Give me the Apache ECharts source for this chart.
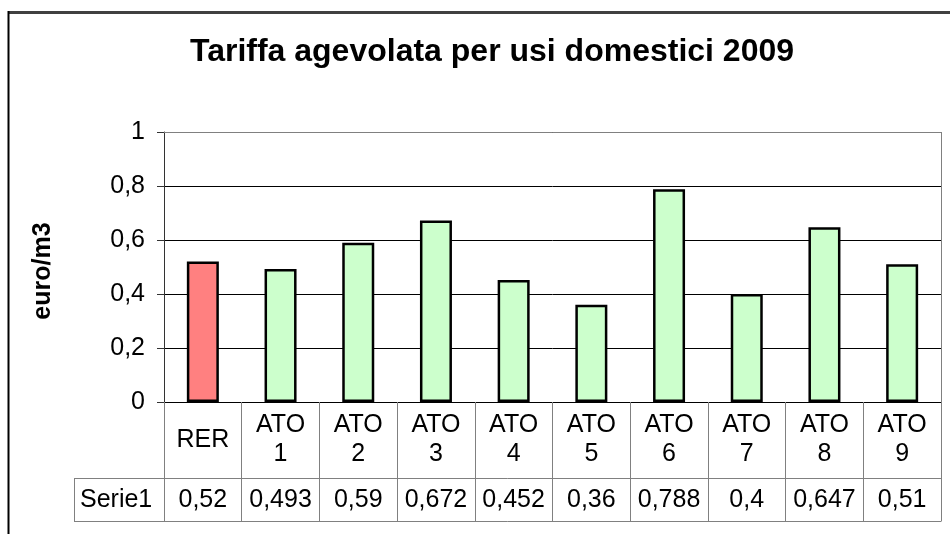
<!DOCTYPE html>
<html>
<head>
<meta charset="utf-8">
<script src="https://cdn.jsdelivr.net/npm/echarts@6/dist/echarts.min.js"></script>
<style>
html,body{margin:0;padding:0;background:#fff;}
#chart{width:950px;height:534px;}
</style>
</head>
<body>
<div id="chart"></div>
<script>
var titleText = 'Tariffa agevolata per usi domestici 2009';
var yAxisName = 'euro/m3';
var seriesName = 'Serie1';
var categories = ['RER', 'ATO 1', 'ATO 2', 'ATO 3', 'ATO 4', 'ATO 5', 'ATO 6', 'ATO 7', 'ATO 8', 'ATO 9'];
var values = [0.52, 0.493, 0.59, 0.672, 0.452, 0.36, 0.788, 0.4, 0.647, 0.51];
var barColors = ['#FF8080', '#CCFFCC', '#CCFFCC', '#CCFFCC', '#CCFFCC', '#CCFFCC', '#CCFFCC', '#CCFFCC', '#CCFFCC', '#CCFFCC'];

function fmt(v) { return String(v).replace('.', ','); }

var FONT = '"Liberation Sans", Arial, sans-serif';
var G = { left: 164, top: 132, width: 777, height: 270 };
var rowTop = G.top + G.height;       // 402
var row2Top = rowTop + 76;           // 478
var row2Bot = row2Top + 43;          // 521
var tableLeft = 74;
var gRight = G.left + G.width;       // 941
var grey = '#808080';

var chart = echarts.init(document.getElementById('chart'), null, { renderer: 'canvas' });
chart.setOption({
  animation: false,
  backgroundColor: '#fff',
  title: {
    text: titleText,
    left: 487, top: 31, textAlign: 'center',
    textStyle: { fontFamily: FONT, fontSize: 32, fontWeight: 'bold', color: '#000' }
  },
  grid: { left: G.left, top: G.top, width: G.width, height: G.height, containLabel: false },
  xAxis: [{
    type: 'category',
    data: categories,
    position: 'bottom',
    axisLine: { show: true, lineStyle: { color: '#000', width: 1 } },
    axisTick: { show: true, length: row2Bot - rowTop, lineStyle: { color: grey, width: 1 } },
    axisLabel: {
      margin: 38, verticalAlign: 'middle', align: 'center', interval: 0,
      fontFamily: FONT, fontSize: 25, color: '#000', lineHeight: 29,
      formatter: function (v) { return v.replace(' ', '\n'); }
    },
    splitLine: { show: false }
  }, {
    type: 'category',
    data: values.map(fmt),
    position: 'bottom',
    offset: row2Top - rowTop,
    axisLine: { show: false },
    axisTick: { show: false },
    axisLabel: {
      margin: 22, verticalAlign: 'middle', align: 'center', interval: 0,
      fontFamily: FONT, fontSize: 25, color: '#000'
    },
    splitLine: { show: false }
  }],
  yAxis: {
    type: 'value',
    min: 0, max: 1, interval: 0.2,
    name: yAxisName,
    nameLocation: 'middle',
    nameGap: 108,
    nameRotate: 90,
    nameTextStyle: { fontFamily: FONT, fontSize: 25, fontWeight: 'bold', color: '#000', padding: [0, 8, 0, 0] },
    axisLine: { show: true, lineStyle: { color: '#333', width: 1 } },
    axisTick: { show: true, inside: false, length: 7, lineStyle: { color: '#333' } },
    axisLabel: {
      margin: 19, fontFamily: FONT, fontSize: 25, color: '#000',
      formatter: function (v) { return fmt(Math.round(v * 10) / 10); }
    },
    splitLine: { show: true, lineStyle: { color: '#000', width: 1 } }
  },
  series: [{
    type: 'bar',
    name: seriesName,
    xAxisIndex: 0,
    data: values.map(function (v, i) {
      return { value: v, itemStyle: { color: barColors[i] } };
    }),
    barWidth: 32,
    itemStyle: { borderColor: '#000', borderWidth: 2.5 }
  }],
  graphic: [
    { type: 'line', z: 100, shape: { x1: 8, y1: 12.5, x2: 950, y2: 12.5 }, style: { stroke: '#404040', lineWidth: 3 } },
    { type: 'line', z: 100, shape: { x1: 8.5, y1: 11, x2: 8.5, y2: 534 }, style: { stroke: '#000', lineWidth: 2 } },
    { type: 'line', z: 100, shape: { x1: G.left, y1: G.top + 0.5, x2: gRight + 0.5, y2: G.top + 0.5 }, style: { stroke: grey, lineWidth: 1 } },
    { type: 'line', z: 100, shape: { x1: gRight + 0.5, y1: G.top, x2: gRight + 0.5, y2: row2Bot }, style: { stroke: grey, lineWidth: 1 } },
    { type: 'line', z: 100, shape: { x1: tableLeft, y1: row2Top + 0.5, x2: gRight + 0.5, y2: row2Top + 0.5 }, style: { stroke: grey, lineWidth: 1 } },
    { type: 'line', z: 100, shape: { x1: tableLeft, y1: row2Bot + 0.5, x2: gRight + 0.5, y2: row2Bot + 0.5 }, style: { stroke: grey, lineWidth: 1 } },
    { type: 'line', z: 100, shape: { x1: tableLeft + 0.5, y1: row2Top, x2: tableLeft + 0.5, y2: row2Bot }, style: { stroke: grey, lineWidth: 1 } },
    { type: 'line', z: 100, shape: { x1: G.left + 0.5, y1: rowTop, x2: G.left + 0.5, y2: row2Bot }, style: { stroke: grey, lineWidth: 1 } },
    { type: 'text', z: 100, x: 80, y: (row2Top + row2Bot) / 2 + 1,
      style: { text: seriesName, fontFamily: FONT, fontSize: 25, fill: '#000', textAlign: 'left', textVerticalAlign: 'middle' } }
  ]
});
</script>
</body>
</html>
